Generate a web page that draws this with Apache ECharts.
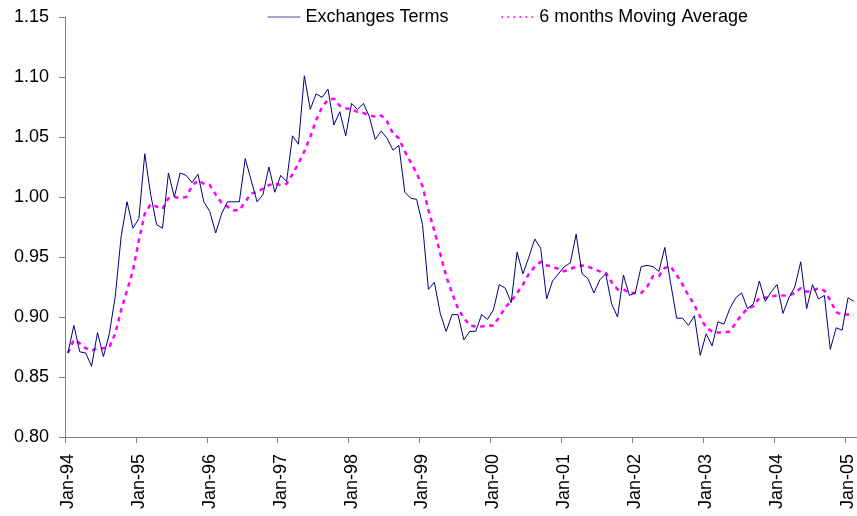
<!DOCTYPE html>
<html>
<head>
<meta charset="utf-8">
<script src="https://cdn.jsdelivr.net/npm/echarts@6/dist/echarts.min.js"></script>
<style>
html,body{margin:0;padding:0;background:#fff;}
#chart{width:857px;height:516px;}
</style>
</head>
<body>
<div id="chart"></div>
<script>
// Monthly categories Jan-94 .. Feb-05
const monthNames = ['Jan','Feb','Mar','Apr','May','Jun','Jul','Aug','Sep','Oct','Nov','Dec'];
const yearLabels = ['94','95','96','97','98','99','00','01','02','03','04','05'];

const exchangeTerms = [
  0.870,0.893,0.871,0.870,0.859,0.887,0.867,0.886,0.917,0.967,0.996,0.974,
  0.982,1.036,1.002,0.977,0.974,1.020,1.000,1.020,1.018,1.012,1.019,0.996,
  0.988,0.970,0.986,0.996,0.996,0.996,1.032,1.014,0.996,1.002,1.025,1.004,
  1.018,1.013,1.051,1.044,1.101,1.073,1.086,1.083,1.090,1.060,1.071,1.051,
  1.078,1.073,1.078,1.067,1.048,1.055,1.049,1.039,1.043,1.004,0.999,0.998,
  0.977,0.923,0.929,0.903,0.888,0.902,0.902,0.881,0.888,0.888,0.902,0.898,
  0.906,0.927,0.924,0.912,0.954,0.936,0.950,0.965,0.957,0.915,0.930,0.936,
  0.942,0.945,0.969,0.936,0.932,0.920,0.931,0.936,0.911,0.900,0.935,0.918,
  0.920,0.942,0.943,0.942,0.938,0.958,0.928,0.899,0.899,0.893,0.901,0.868,
  0.886,0.876,0.896,0.894,0.907,0.916,0.920,0.907,0.911,0.930,0.913,0.921,
  0.927,0.903,0.916,0.925,0.946,0.907,0.927,0.915,0.918,0.873,0.891,0.889,
  0.916,0.913
];

const movingAverage = [
  0.870,0.881,0.878,0.874,0.872,0.874,0.874,0.875,0.886,0.906,0.922,0.939,
  0.964,0.986,0.994,0.992,0.990,0.999,1.000,0.999,1.000,1.009,1.014,1.011,
  1.010,1.002,0.995,0.992,0.989,0.989,0.996,1.003,1.004,1.007,1.010,1.011,
  1.010,1.011,1.019,1.028,1.038,1.050,1.064,1.075,1.081,1.082,1.076,1.074,
  1.073,1.071,1.070,1.068,1.067,1.068,1.063,1.053,1.049,1.038,1.029,1.020,
  1.009,0.989,0.972,0.953,0.934,0.920,0.907,0.899,0.893,0.892,0.892,0.893,
  0.893,0.900,0.908,0.913,0.920,0.927,0.936,0.942,0.946,0.943,0.942,0.940,
  0.938,0.940,0.942,0.943,0.942,0.940,0.938,0.937,0.929,0.923,0.923,0.920,
  0.920,0.920,0.925,0.934,0.934,0.941,0.942,0.935,0.927,0.918,0.910,0.900,
  0.891,0.888,0.887,0.887,0.888,0.895,0.902,0.907,0.909,0.916,0.916,0.917,
  0.918,0.918,0.918,0.920,0.924,0.921,0.922,0.924,0.922,0.914,0.904,0.902,
  0.902,0.902
];

const yTicks = { min: 0.80, max: 1.15, interval: 0.05 };

const categories = [];
for (let y = 0; y < yearLabels.length; y++) {
  for (let m = 0; m < 12; m++) {
    if (categories.length < exchangeTerms.length) categories.push(monthNames[m] + '-' + yearLabels[y]);
  }
}

const FONT = "'Liberation Sans', Arial, sans-serif";
const chart = echarts.init(document.getElementById('chart'), null, { renderer: 'canvas' });
chart.setOption({
  animation: false,
  backgroundColor: '#ffffff',
  textStyle: { fontFamily: FONT },
  legend: {
    left: 267,
    top: 8,
    padding: 0,
    itemWidth: 33,
    itemHeight: 14,
    itemGap: 52,
    itemStyle: { color: 'transparent', borderColor: 'transparent', borderWidth: 0, opacity: 0 },
    textStyle: { fontSize: 18, color: '#000', fontFamily: FONT },
    data: [
      { name: 'Exchanges Terms', lineStyle: { color: '#4a4aa0', width: 1 } },
      { name: '6 months Moving Average', lineStyle: { color: '#ff00ff', width: 1.5, type: [2, 4] } }
    ]
  },
  grid: { left: 65, right: 0, top: 17, bottom: 79, containLabel: false },
  xAxis: {
    type: 'category',
    data: categories,
    boundaryGap: true,
    axisLine: { show: true, lineStyle: { color: '#808080', width: 1 } },
    axisTick: { show: true, interval: 11, length: 6, lineStyle: { color: '#808080' } },
    axisLabel: {
      interval: 11,
      rotate: 90,
      margin: 17,
      fontSize: 18,
      color: '#000',
      fontFamily: FONT
    },
    splitLine: { show: false }
  },
  yAxis: {
    type: 'value',
    min: yTicks.min,
    max: yTicks.max,
    interval: yTicks.interval,
    axisLine: { show: true, lineStyle: { color: '#808080', width: 1 } },
    axisTick: { show: true, length: 6, lineStyle: { color: '#808080' } },
    axisLabel: {
      margin: 16,
      fontSize: 18,
      color: '#000',
      fontFamily: FONT,
      formatter: v => v.toFixed(2)
    },
    splitLine: { show: false }
  },
  series: [
    {
      name: 'Exchanges Terms',
      type: 'line',
      data: exchangeTerms,
      symbol: 'none',
      lineStyle: { color: '#000080', width: 1 },
      itemStyle: { color: '#000080' },
      z: 3
    },
    {
      name: '6 months Moving Average',
      type: 'line',
      data: movingAverage,
      symbol: 'none',
      lineStyle: { color: '#ff00ff', width: 2.5, type: [4.5, 4.5], cap: 'butt' },
      itemStyle: { color: '#ff00ff' },
      z: 2
    }
  ]
});
</script>
</body>
</html>
